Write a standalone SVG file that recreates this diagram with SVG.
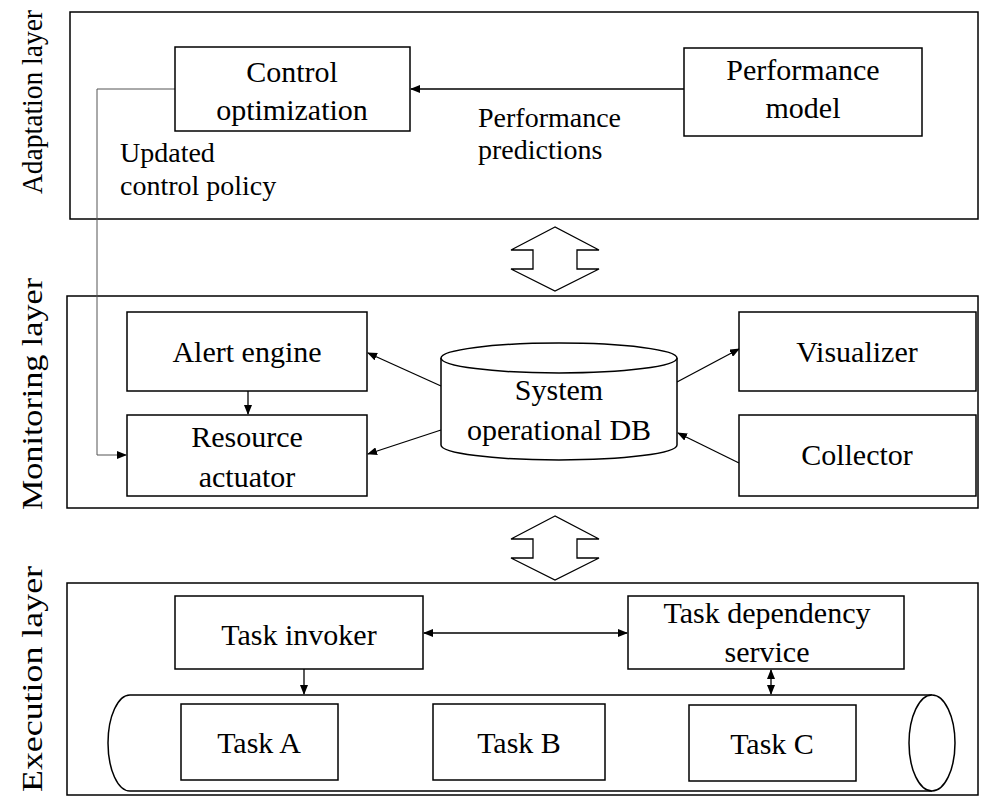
<svg xmlns="http://www.w3.org/2000/svg" width="994" height="801" viewBox="0 0 994 801" font-family="'Liberation Serif', 'DejaVu Serif', serif">
<defs>
<marker id="ah" markerWidth="10" markerHeight="8" refX="9" refY="4" orient="auto-start-reverse" markerUnits="userSpaceOnUse">
<path d="M0,0 L10,4 L0,8 Z" fill="#000"/>
</marker>
<style>
text{font-family:'Liberation Serif','DejaVu Serif',serif;font-size:30px;fill:#000;text-anchor:middle}
.lbl{text-anchor:start;font-size:28px}
.box{fill:#fff;stroke:#000;stroke-width:1.5}
.layer{fill:none;stroke:#000;stroke-width:1.5}
.ln{fill:none;stroke:#000;stroke-width:1.3}
.thin{fill:none;stroke:#555;stroke-width:1}
</style>
</defs>
<rect width="994" height="801" fill="#fff"/>

<g id="layers">
<rect class="layer" x="70" y="12" width="908" height="207"/>
<rect class="layer" x="67" y="296" width="911" height="212"/>
<rect class="layer" x="67" y="583" width="911" height="212"/>
<text transform="translate(42,102) rotate(-90)" textLength="184" lengthAdjust="spacingAndGlyphs">Adaptation layer</text>
<text transform="translate(42,394) rotate(-90)" textLength="232" lengthAdjust="spacingAndGlyphs">Monitoring layer</text>
<text transform="translate(42,679) rotate(-90)" textLength="226" lengthAdjust="spacingAndGlyphs">Execution layer</text>
</g>

<g id="bigarrows">
<path class="ln" d="M555,227 L511,250 L533,250 L533,269 L511,269 L555,291 L599,269 L577,269 L577,250 L599,250 Z" fill="#fff"/>
<path class="ln" d="M555,516 L511,539 L533,539 L533,558 L511,558 L555,580 L599,558 L577,558 L577,539 L599,539 Z" fill="#fff"/>
</g>

<g id="connectors">
<path class="thin" d="M175,89 L97,89 L97,455 L126,455" marker-end="url(#ah)"/>
<line class="ln" x1="684" y1="89" x2="411" y2="89" marker-end="url(#ah)"/>
<line class="ln" x1="248" y1="391" x2="248" y2="414" marker-end="url(#ah)"/>
<line class="ln" x1="441" y1="386" x2="368" y2="353" marker-end="url(#ah)"/>
<line class="ln" x1="441" y1="430" x2="368" y2="454" marker-end="url(#ah)"/>
<line class="ln" x1="677" y1="382" x2="739" y2="349" marker-end="url(#ah)"/>
<line class="ln" x1="739" y1="463" x2="678" y2="433" marker-end="url(#ah)"/>
<line class="ln" x1="304" y1="669" x2="304" y2="694" marker-end="url(#ah)"/>
<line class="ln" x1="424" y1="633" x2="627" y2="633" marker-start="url(#ah)" marker-end="url(#ah)"/>
<line class="ln" x1="771" y1="670" x2="771" y2="694" marker-start="url(#ah)" marker-end="url(#ah)"/>
</g>

<g id="control-optimization">
<rect class="box" x="175" y="47" width="235" height="84"/>
<text x="292" y="82">Control</text>
<text x="292" y="120">optimization</text>
</g>

<g id="performance-model">
<rect class="box" x="684" y="48" width="238" height="88"/>
<text x="803" y="80">Performance</text>
<text x="803" y="118">model</text>
</g>

<g id="label-predictions">
<text class="lbl" x="478" y="127">Performance</text>
<text class="lbl" x="478" y="159">predictions</text>
</g>

<g id="label-policy">
<text class="lbl" x="120" y="162">Updated</text>
<text class="lbl" x="120" y="195">control policy</text>
</g>

<g id="alert-engine">
<rect class="box" x="127" y="312" width="240" height="79"/>
<text x="247" y="362">Alert engine</text>
</g>

<g id="resource-actuator">
<rect class="box" x="127" y="415" width="240" height="81"/>
<text x="247" y="447">Resource</text>
<text x="247" y="487">actuator</text>
</g>

<g id="system-db">
<path class="box" d="M441,358 L441,445 A118,15 0 0 0 677,445 L677,358"/>
<ellipse class="box" cx="559" cy="358" rx="118" ry="15"/>
<text x="559" y="400">System</text>
<text x="559" y="440">operational DB</text>
</g>

<g id="visualizer">
<rect class="box" x="739" y="312" width="237" height="79"/>
<text x="857" y="362">Visualizer</text>
</g>

<g id="collector">
<rect class="box" x="739" y="415" width="237" height="81"/>
<text x="857" y="465">Collector</text>
</g>

<g id="task-invoker">
<rect class="box" x="175" y="596" width="248" height="73"/>
<text x="299" y="645">Task invoker</text>
</g>

<g id="task-dependency-service">
<rect class="box" x="628" y="596" width="276" height="73"/>
<text x="767" y="623">Task dependency</text>
<text x="767" y="662">service</text>
</g>

<g id="task-queue">
<path class="box" d="M932,695 L130,695 A22,48 0 0 0 130,791 L932,791"/>
<ellipse class="box" cx="932" cy="743" rx="23" ry="48"/>
</g>

<g id="task-a">
<rect class="box" x="181" y="704" width="157" height="76"/>
<text x="259" y="753">Task A</text>
</g>

<g id="task-b">
<rect class="box" x="433" y="704" width="172" height="76"/>
<text x="519" y="753">Task B</text>
</g>

<g id="task-c">
<rect class="box" x="689" y="705" width="167" height="76"/>
<text x="772" y="754">Task C</text>
</g>
</svg>
